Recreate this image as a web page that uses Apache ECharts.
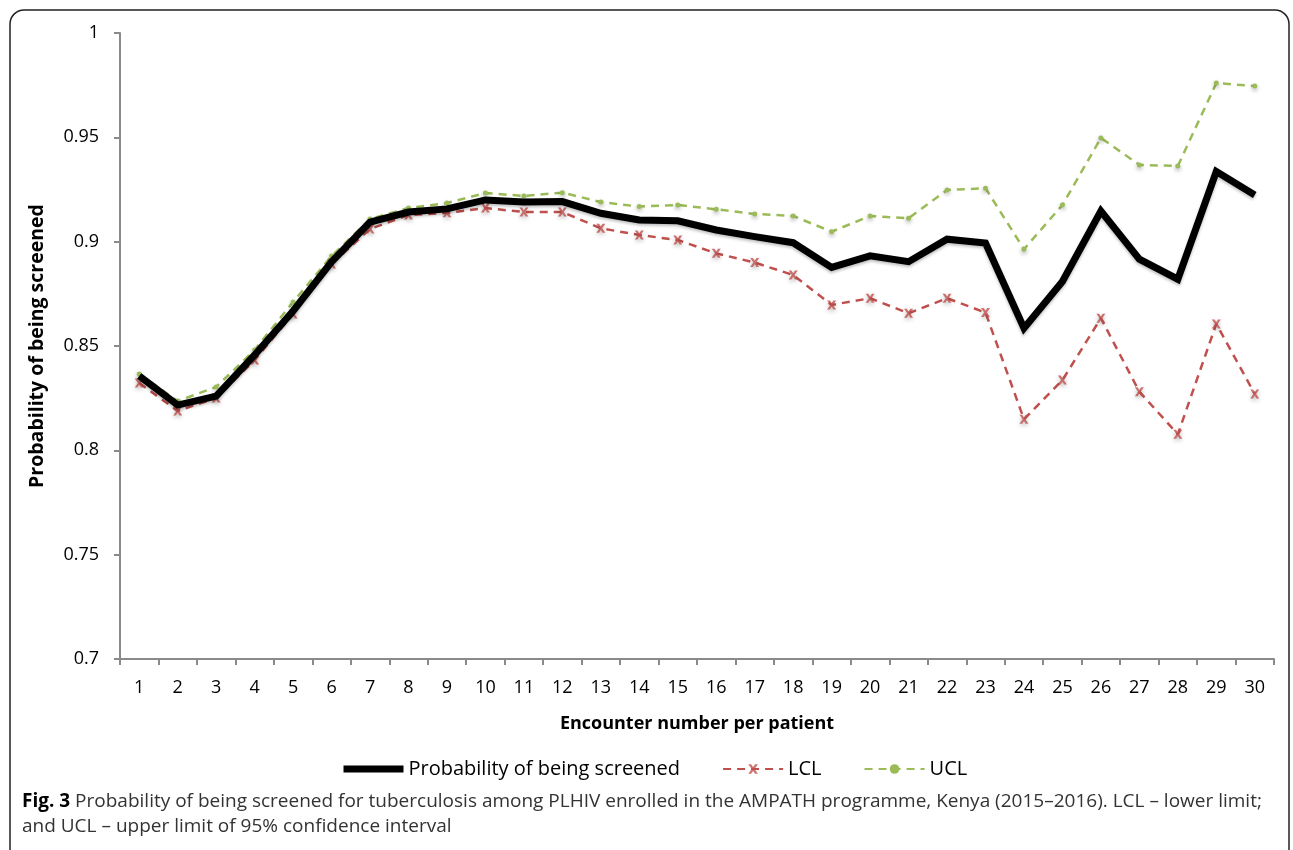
<!DOCTYPE html>
<html>
<head>
<meta charset="utf-8">
<script src="https://cdn.jsdelivr.net/npm/echarts@6/dist/echarts.min.js"></script>
<style>
html,body{margin:0;padding:0;background:#fff;}
#chart{width:1293px;height:850px;}
</style>
</head>
<body>
<div id="chart"></div>
<script>
const categories = ['1','2','3','4','5','6','7','8','9','10','11','12','13','14','15','16','17','18','19','20','21','22','23','24','25','26','27','28','29','30'];
const probability = [0.8356,0.8217,0.826,0.8457,0.8668,0.8903,0.9094,0.9142,0.9157,0.920,0.919,0.9192,0.9136,0.9104,0.910,0.9056,0.9024,0.8995,0.8877,0.8932,0.8904,0.9012,0.8993,0.8585,0.8809,0.9147,0.8916,0.882,0.9336,0.9224];
const lcl = [0.8323,0.8189,0.8251,0.8433,0.8653,0.8893,0.9061,0.9128,0.9138,0.9161,0.9142,0.9142,0.9064,0.9032,0.9008,0.8944,0.890,0.884,0.8697,0.8729,0.8657,0.8729,0.866,0.8149,0.8337,0.8633,0.8281,0.8077,0.8606,0.827];
const ucl = [0.8366,0.8236,0.8304,0.8481,0.8711,0.8931,0.9109,0.9161,0.9185,0.9233,0.9219,0.9235,0.919,0.9168,0.9176,0.9155,0.9133,0.9123,0.9048,0.9123,0.9112,0.9248,0.9256,0.8964,0.9176,0.9497,0.9368,0.9363,0.976,0.9746];
const yTicks = {min: 0.7, max: 1, interval: 0.05};
const seriesNames = ['Probability of being screened', 'LCL', 'UCL'];

const FONT = '"Open Sans", "DejaVu Sans", sans-serif';
const xPath = 'path://M0,0 L3,0 L5,3 L7,0 L10,0 L6.5,5 L10,10 L7,10 L5,7 L3,10 L0,10 L3.5,5 Z';

const chart = echarts.init(document.getElementById('chart'), null, {renderer: 'canvas'});
chart.setOption({
  backgroundColor: '#fff',
  animation: false,
  textStyle: {fontFamily: FONT},
  grid: {left: 120, right: 19, top: 33, bottom: 191, containLabel: false},
  legend: {
    left: 335, top: 754,
    itemWidth: 60, itemHeight: 12, itemGap: 42,
    textStyle: {fontFamily: FONT, fontSize: 20, color: '#000'},
    data: [
      {name: seriesNames[0], itemStyle: {opacity: 0}, lineStyle: {width: 7, color: '#000'}},
      {name: seriesNames[1]},
      {name: seriesNames[2]}
    ]
  },
  xAxis: {
    type: 'category',
    data: categories,
    boundaryGap: true,
    name: 'Encounter number per patient',
    nameLocation: 'middle',
    nameGap: 56,
    nameTextStyle: {fontFamily: FONT, fontSize: 18, fontWeight: 'bold', color: '#000'},
    axisLine: {lineStyle: {color: '#8a8a8a', width: 2}},
    axisTick: {show: true, alignWithLabel: false, length: 6, lineStyle: {color: '#8a8a8a', width: 2}},
    axisLabel: {fontFamily: FONT, fontSize: 18, color: '#000', margin: 20, interval: 0},
    splitLine: {show: false}
  },
  yAxis: {
    type: 'value',
    min: yTicks.min, max: yTicks.max, interval: yTicks.interval,
    name: 'Probability of being screened',
    nameLocation: 'middle',
    nameGap: 73,
    nameTextStyle: {fontFamily: FONT, fontSize: 19.5, fontWeight: 'bold', color: '#000'},
    axisLine: {show: true, lineStyle: {color: '#8a8a8a', width: 2}},
    axisTick: {show: true, length: 6, lineStyle: {color: '#8a8a8a', width: 2}},
    axisLabel: {fontFamily: FONT, fontSize: 18, color: '#000', margin: 21},
    splitLine: {show: false}
  },
  series: [
    {
      name: seriesNames[1], type: 'line', data: lcl, z: 2,
      symbol: xPath, symbolSize: 9, showSymbol: true,
      lineStyle: {color: '#c0504d', width: 2.5, type: [8, 6]},
      itemStyle: {color: '#c0504d', opacity: 0.8, shadowColor: 'rgba(0,0,0,0.35)', shadowBlur: 4, shadowOffsetY: 2},
      emphasis: {disabled: true}
    },
    {
      name: seriesNames[2], type: 'line', data: ucl, z: 2,
      symbol: 'circle', symbolSize: 5, showSymbol: true,
      lineStyle: {color: '#9bbb59', width: 2.5, type: [8, 6]},
      itemStyle: {color: '#9bbb59', shadowColor: 'rgba(0,0,0,0.35)', shadowBlur: 4, shadowOffsetY: 2},
      emphasis: {disabled: true}
    },
    {
      name: seriesNames[0], type: 'line', data: probability, z: 3,
      symbol: 'none', showSymbol: false,
      lineStyle: {color: '#000', width: 7, join: 'miter', shadowColor: 'rgba(0,0,0,0.25)', shadowBlur: 3, shadowOffsetY: 2},
      itemStyle: {color: '#000'},
      emphasis: {disabled: true}
    }
  ],
  graphic: [
    {
      type: 'rect', silent: true, z: 0,
      shape: {x: 10, y: 10, width: 1279, height: 900, r: 14},
      style: {fill: 'none', stroke: '#222', lineWidth: 1.5}
    },
    {
      type: 'text', left: 22, top: 789, silent: true,
      style: {
        text: '{b|Fig. 3} Probability of being screened for tuberculosis among PLHIV enrolled in the AMPATH programme, Kenya (2015\u20132016). LCL \u2013 lower limit;\nand UCL \u2013 upper limit of 95% confidence interval',
        fontFamily: FONT, fontSize: 19, fill: '#333', lineHeight: 25,
        rich: {b: {fontFamily: FONT, fontSize: 19, fontWeight: 'bold', fill: '#000', lineHeight: 25}}
      }
    }
  ]
});
</script>
</body>
</html>
